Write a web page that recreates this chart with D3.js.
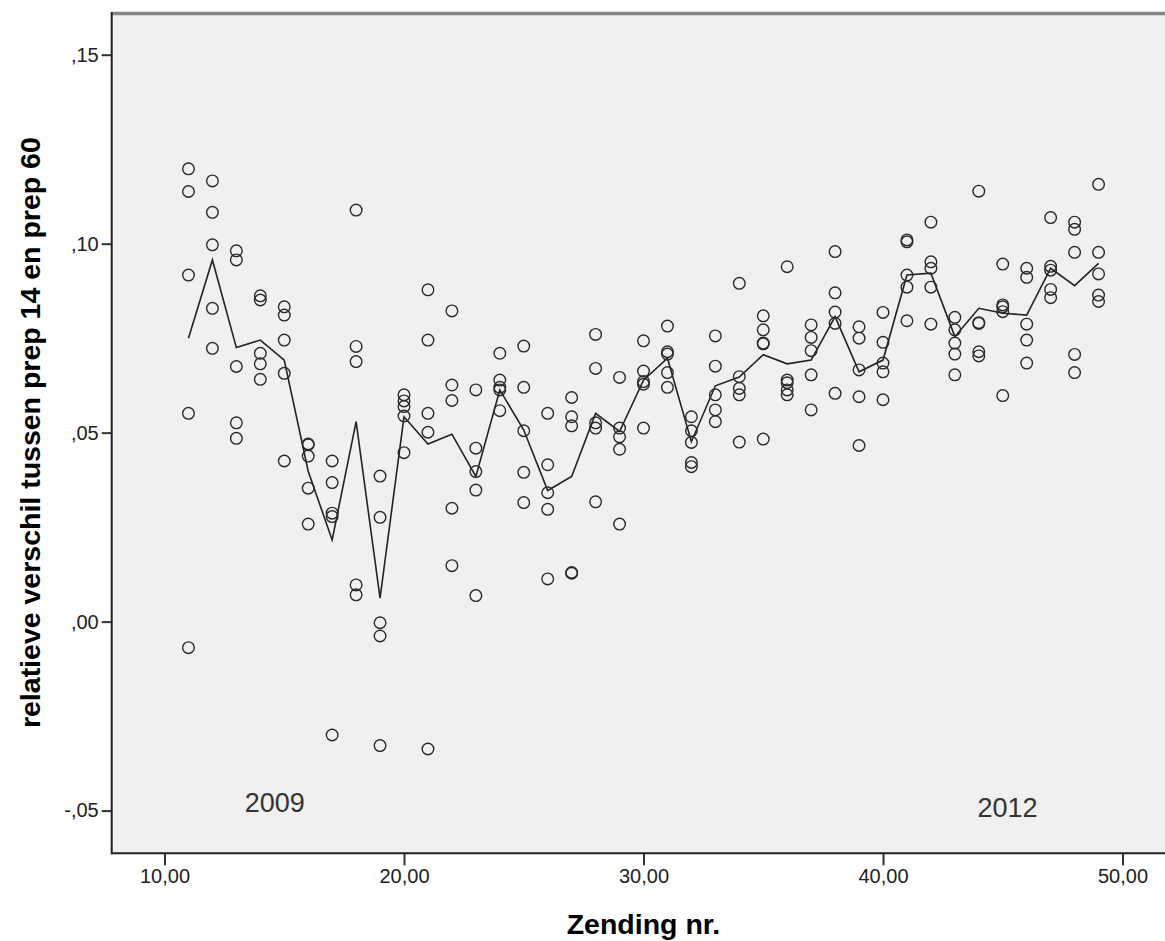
<!DOCTYPE html>
<html>
<head>
<meta charset="utf-8">
<script src="https://cdn.jsdelivr.net/npm/d3@7"></script>
<style>
    body { margin: 0; background: #fff; }
    text { font-family: "Liberation Sans", Arial, sans-serif; }
</style>
</head>
<body>
<div id="chart"></div>
<script>
// Scatter of the relative difference per shipment, with the line of means

// Shipment numbers (x)
let zending = [11, 12, 13, 14, 15, 16, 17, 18, 19, 20, 21, 22, 23, 24, 25, 26, 27, 28, 29, 30,
    31, 32, 33, 34, 35, 36, 37, 38, 39, 40, 41, 42, 43, 44, 45, 46, 47, 48, 49];

// Measured values, one list per shipment
let waarden = [
    [0.1198, 0.1138, 0.0917, 0.0551, -0.0069],
    [0.1166, 0.1083, 0.0997, 0.0829, 0.0723],
    [0.0981, 0.0957, 0.0675, 0.0526, 0.0485],
    [0.0862, 0.0851, 0.0710, 0.0682, 0.0641],
    [0.0833, 0.0811, 0.0745, 0.0657, 0.0425],
    [0.0470, 0.0468, 0.0438, 0.0353, 0.0258],
    [0.0425, 0.0368, 0.0287, 0.0278, -0.0300],
    [0.1089, 0.0728, 0.0688, 0.0097, 0.0071],
    [0.0385, 0.0276, -0.0003, -0.0038, -0.0328],
    [0.0600, 0.0584, 0.0569, 0.0544, 0.0447],
    [0.0878, 0.0745, 0.0551, 0.0501, -0.0337],
    [0.0822, 0.0626, 0.0585, 0.0300, 0.0148],
    [0.0613, 0.0459, 0.0397, 0.0348, 0.0069],
    [0.0710, 0.0639, 0.0620, 0.0613, 0.0558],
    [0.0729, 0.0620, 0.0505, 0.0395, 0.0315],
    [0.0551, 0.0415, 0.0341, 0.0297, 0.0113],
    [0.0593, 0.0542, 0.0518, 0.0130, 0.0128],
    [0.0760, 0.0670, 0.0526, 0.0512, 0.0317],
    [0.0646, 0.0512, 0.0489, 0.0456, 0.0258],
    [0.0743, 0.0663, 0.0635, 0.0628, 0.0512],
    [0.0782, 0.0714, 0.0708, 0.0659, 0.0620],
    [0.0542, 0.0505, 0.0474, 0.0421, 0.0410],
    [0.0756, 0.0676, 0.0600, 0.0560, 0.0529],
    [0.0895, 0.0648, 0.0617, 0.0600, 0.0475],
    [0.0809, 0.0772, 0.0737, 0.0735, 0.0483],
    [0.0939, 0.0639, 0.0632, 0.0613, 0.0600],
    [0.0785, 0.0752, 0.0717, 0.0653, 0.0560],
    [0.0979, 0.0870, 0.0819, 0.0789, 0.0604],
    [0.0780, 0.0750, 0.0666, 0.0595, 0.0466],
    [0.0818, 0.0739, 0.0684, 0.0661, 0.0587],
    [0.1010, 0.1005, 0.0917, 0.0885, 0.0796],
    [0.1057, 0.0952, 0.0935, 0.0885, 0.0787],
    [0.0805, 0.0772, 0.0737, 0.0708, 0.0653],
    [0.1139, 0.0791, 0.0789, 0.0714, 0.0703],
    [0.0946, 0.0838, 0.0833, 0.0820, 0.0598],
    [0.0935, 0.0911, 0.0787, 0.0745, 0.0684],
    [0.1069, 0.0940, 0.0930, 0.0879, 0.0857],
    [0.1057, 0.1038, 0.0977, 0.0707, 0.0659],
    [0.1157, 0.0977, 0.0920, 0.0864, 0.0847]
];

// Mean per shipment (the line)
let gemiddelde = [0.0750, 0.0957, 0.0725, 0.0745, 0.0692, 0.0398, 0.0216, 0.0529, 0.0062, 0.0542,
    0.0470, 0.0496, 0.0384, 0.0613, 0.0507, 0.0347, 0.0384, 0.0551, 0.0503, 0.0639,
    0.0697, 0.0476, 0.0624, 0.0647, 0.0706, 0.0682, 0.0692, 0.0807, 0.0661, 0.0692,
    0.0917, 0.0922, 0.0754, 0.0829, 0.0816, 0.0811, 0.0935, 0.0889, 0.0948];

// Tick values
let x_ticks = [10, 20, 30, 40, 50];
let y_ticks = [-0.05, 0, 0.05, 0.10, 0.15];

// Year annotations
let jaren = ["2009", "2012"];
let jaar_x = [14.6, 45.2];

// Chart size
let width = 1165,
    height = 941;
let plot = { left: 111.7, top: 13.5, right: 1175, bottom: 853.3 };

// Scales
let x = d3.scaleLinear()
    .domain([7.795, 10 + (plot.right - 164.5) / 23.95])
    .range([plot.left, plot.right]);

let y = d3.scaleLinear()
    .domain([-0.0613, 0.1609])
    .range([plot.bottom, plot.top]);

// Dutch number format: comma decimal, no leading zero
let nl = d3.formatLocale({ decimal: ",", thousands: ".", grouping: [3], currency: ["€", ""], minus: "-" });
let fmt2 = nl.format(".2f");
let yFormat = (d) => fmt2(d).replace(/^(-?)0,/, "$1,");

let svg = d3.select("#chart")
    .append("svg")
    .attr("width", width)
    .attr("height", height);

// Plot background
svg.append("rect")
    .attr("x", plot.left)
    .attr("y", plot.top)
    .attr("width", plot.right - plot.left)
    .attr("height", plot.bottom - plot.top)
    .attr("fill", "#f0f0f0");

// Frame: grey top, dark left and bottom
svg.append("line")
    .attr("x1", plot.left).attr("x2", plot.right)
    .attr("y1", plot.top).attr("y2", plot.top)
    .attr("stroke", "#858585").attr("stroke-width", 3.5);

// Axes
let xaxis = svg.append("g")
    .attr("transform", `translate(0,${plot.bottom})`)
    .call(d3.axisBottom(x).tickValues(x_ticks).tickFormat(fmt2).tickSize(12).tickPadding(4));

let yaxis = svg.append("g")
    .attr("transform", `translate(${plot.left},0)`)
    .call(d3.axisLeft(y).tickValues(y_ticks).tickFormat(yFormat).tickSize(10).tickPadding(3));

[xaxis, yaxis].forEach((a) => {
    a.select(".domain").remove();
    a.selectAll(".tick line").attr("stroke", "#333").attr("stroke-width", 2);
    a.selectAll(".tick text")
        .attr("fill", "#222")
        .style("font-size", "20px")
        .style("font-family", "'Liberation Sans', Arial, sans-serif");
});

svg.append("line")
    .attr("x1", plot.left).attr("x2", plot.left)
    .attr("y1", plot.top - 1.5).attr("y2", plot.bottom + 1)
    .attr("stroke", "#222").attr("stroke-width", 2);
svg.append("line")
    .attr("x1", plot.left).attr("x2", plot.right)
    .attr("y1", plot.bottom).attr("y2", plot.bottom)
    .attr("stroke", "#222").attr("stroke-width", 2);

// Year labels
svg.selectAll(".jaar")
    .data(jaren)
    .enter().append("text")
    .attr("x", (d, i) => x(jaar_x[i]))
    .attr("y", (d, i) => i === 0 ? 812 : 816.5)
    .attr("text-anchor", "middle")
    .attr("fill", "#333")
    .style("font-size", "27px")
    .text((d) => d);

// Mean line
let line = d3.line()
    .x((d, i) => x(zending[i]))
    .y((d) => y(d));

svg.append("path")
    .datum(gemiddelde)
    .attr("fill", "none")
    .attr("stroke", "#222")
    .attr("stroke-width", 1.6)
    .attr("stroke-linejoin", "miter")
    .attr("d", line);

// Points
let punten = [];
waarden.forEach((lijst, i) => lijst.forEach((v) => punten.push({ x: zending[i], y: v })));

svg.append("g").selectAll("circle")
    .data(punten)
    .enter().append("circle")
    .attr("cx", (d) => x(d.x))
    .attr("cy", (d) => y(d.y))
    .attr("r", 5.8)
    .attr("fill", "none")
    .attr("stroke", "#2a2a2a")
    .attr("stroke-width", 1.4);

// Axis titles
svg.append("text")
    .attr("x", x(30))
    .attr("y", 934)
    .attr("text-anchor", "middle")
    .attr("fill", "#000")
    .style("font-size", "28.5px")
    .style("font-weight", "bold")
    .text("Zending nr.");

svg.append("text")
    .attr("transform", `translate(40,${y(0.05)}) rotate(-90)`)
    .attr("text-anchor", "middle")
    .attr("fill", "#000")
    .style("font-size", "28.5px")
    .style("font-weight", "bold")
    .text("relatieve verschil tussen prep 14 en prep 60");
</script>
</body>
</html>
